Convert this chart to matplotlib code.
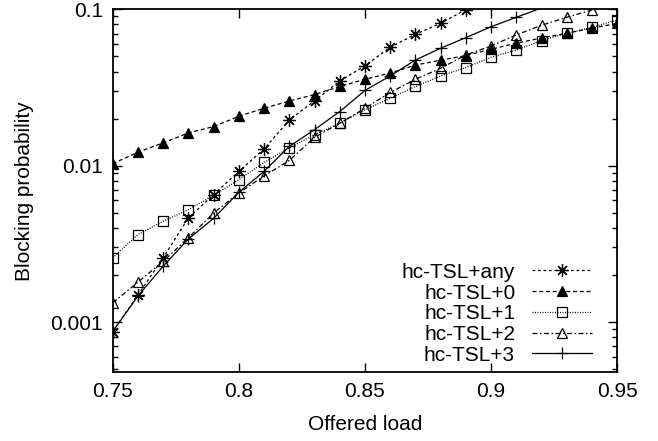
import numpy as np
import matplotlib
matplotlib.use("Agg")
import matplotlib.pyplot as plt
from matplotlib.ticker import FixedLocator, FuncFormatter, LogLocator, NullFormatter

plt.rcParams['font.family'] = ['Liberation Sans', 'DejaVu Sans']

load = [0.75, 0.76, 0.77, 0.78, 0.79, 0.80, 0.81, 0.82, 0.83, 0.84, 0.85,
        0.86, 0.87, 0.88, 0.89, 0.90, 0.91, 0.92, 0.93, 0.94, 0.95]

tsl_any = [0.00087, 0.00149, 0.00258, 0.00464, 0.00653, 0.0092, 0.0128, 0.0196,
           0.0260, 0.0348, 0.0435, 0.0572, 0.0692, 0.0814, 0.0995]
tsl_0 = [0.0103, 0.0122, 0.0140, 0.0162, 0.0178, 0.0207, 0.0233, 0.0259, 0.0285,
         0.0321, 0.0357, 0.0391, 0.0440, 0.0473, 0.0506, 0.0556, 0.0607, 0.0656,
         0.0703, 0.0757, 0.0814]
tsl_1 = [0.00258, 0.00363, 0.00441, 0.00524, 0.00646, 0.00815, 0.0105, 0.0130,
         0.0158, 0.0187, 0.0228, 0.0270, 0.0321, 0.0375, 0.0424, 0.0494, 0.0549,
         0.0631, 0.0703, 0.0767, 0.0855]
tsl_2 = [0.00133, 0.0018, 0.00245, 0.00346, 0.00499, 0.0067, 0.0086, 0.0108,
         0.0152, 0.0187, 0.0233, 0.0294, 0.0357, 0.0420, 0.0511, 0.0583, 0.0686,
         0.0791, 0.0889, 0.099, 0.108]
tsl_3 = [0.00087, 0.00147, 0.00228, 0.0034, 0.00461, 0.00676, 0.0092, 0.0133,
         0.0170, 0.0222, 0.0303, 0.0375, 0.0474, 0.0564, 0.0659, 0.0774, 0.0889,
         0.102]

labels = ["hc-TSL+any", "hc-TSL+0", "hc-TSL+1", "hc-TSL+2", "hc-TSL+3"]
series = [tsl_any, tsl_0, tsl_1, tsl_2, tsl_3]

styles = [
    dict(ls=(0, (2.2, 2.2)), marker=(8, 2, 0), ms=9, mfc='none'),
    dict(ls=(0, (3.2, 2.2)), marker='^', ms=7),
    dict(ls=(0, (0.8, 1.2)), marker='s', ms=6.5, mfc='none'),
    dict(ls=(0, (4, 2, 1.2, 2)), marker='^', ms=7, mfc='none'),
    dict(ls='-', marker='+', ms=9),
]

FS = 15
ymin, ymax = 0.00048, 0.1

fig = plt.figure(figsize=(6.58, 4.41), dpi=100)
ax = fig.add_axes([0.1713, 0.1565, 0.9381 - 0.1713, 0.9789 - 0.1565])

handles = []
for lab, vals, st in zip(labels, series, styles):
    xs = load[:len(vals)]
    me = [v <= ymax * 1.001 for v in vals]
    h, = ax.plot(xs, vals, color='black', lw=0.9, mec='black', mew=0.9,
                 markevery=me, label=lab, **st)
    handles.append(h)

ax.set_yscale('log')
ax.set_xlim(0.75, 0.95)
ax.set_ylim(ymin, ymax)

ax.xaxis.set_major_locator(FixedLocator([0.75, 0.8, 0.85, 0.9, 0.95]))
ax.xaxis.set_major_formatter(FuncFormatter(lambda v, p: '%g' % v))
ax.yaxis.set_major_locator(FixedLocator([0.001, 0.01, 0.1]))
ax.yaxis.set_major_formatter(FuncFormatter(lambda v, p: '%g' % v))
ax.yaxis.set_minor_locator(LogLocator(base=10, subs=np.arange(2, 10)))
ax.yaxis.set_minor_formatter(NullFormatter())

ax.tick_params(which='both', direction='in', top=True, right=True, labelsize=FS)
ax.tick_params(which='major', length=6.5, width=1.0, pad=7)
ax.tick_params(which='minor', length=3.5, width=1.0)
for sp in ax.spines.values():
    sp.set_linewidth(1.3)

ax.set_xlabel('Offered load', fontsize=FS, labelpad=10)
ax.set_ylabel('Blocking probability', fontsize=FS, labelpad=12)

# legend: handles only, labels drawn right-aligned to the left of each handle
leg = ax.legend(handles, [''] * len(handles), loc='lower right',
                bbox_to_anchor=(0.95, 0.02), frameon=False, fontsize=FS,
                handlelength=2.9, handletextpad=0.0, labelspacing=0.085,
                borderpad=0, borderaxespad=0)
fig.canvas.draw()
renderer = fig.canvas.get_renderer()
inv = fig.transFigure.inverted()
for line, lab in zip(leg.get_lines(), labels):
    bb = line.get_window_extent(renderer)
    x0, yc = inv.transform((bb.x0 - 11, (bb.y0 + bb.y1) / 2))
    fig.text(x0, yc, lab, ha='right', va='center_baseline', fontsize=FS)

fig.savefig('out.png', dpi=100)
